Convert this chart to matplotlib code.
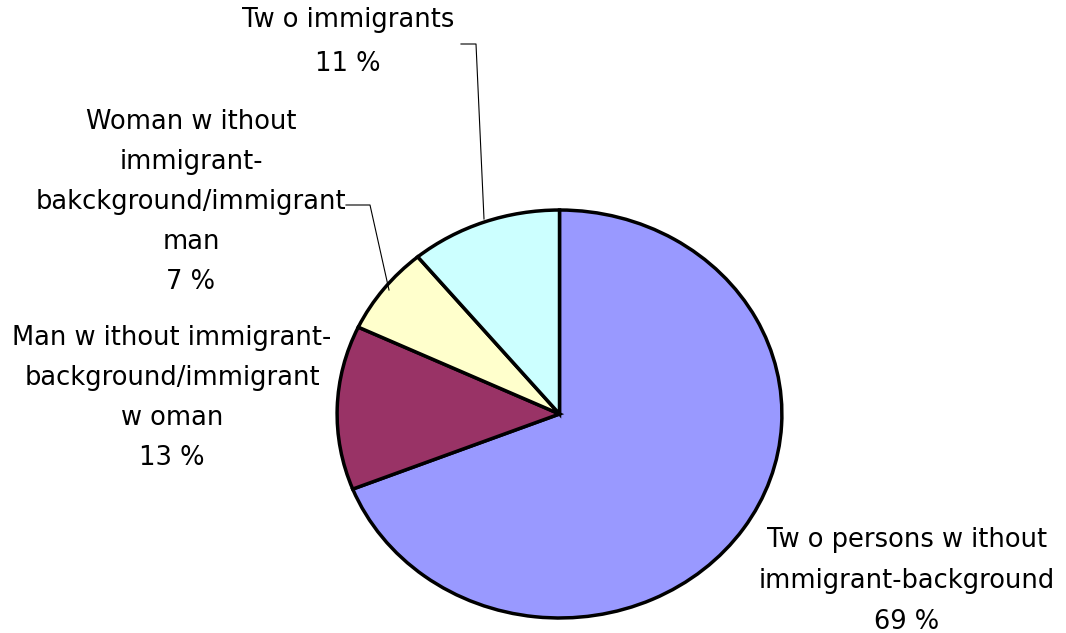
import matplotlib
matplotlib.use("Agg")
import matplotlib.pyplot as plt

categories = [
    "Tw o persons w ithout\nimmigrant-background",
    "Man w ithout immigrant-\nbackground/immigrant\nw oman",
    "Woman w ithout\nimmigrant-\nbakckground/immigrant\nman",
    "Tw o immigrants",
]
values = [69, 13, 7, 11]
colors = ["#9999FF", "#993366", "#FFFFCC", "#CCFFFF"]

W, H = 1066, 633
fig = plt.figure(figsize=(W / 100, H / 100), dpi=100)
fig.patch.set_facecolor("white")

# pie bounding box in pixels (elliptical pie)
px0, px1, py0, py1 = 336, 783, 209, 619
ax = fig.add_axes([px0 / W, 1 - py1 / H, (px1 - px0) / W, (py1 - py0) / H])
ax.pie(values, colors=colors, startangle=90, counterclock=False,
       wedgeprops=dict(edgecolor="black", linewidth=2.5))
ax.set_aspect("auto")
ax.set_xlim(-1.005, 1.005)
ax.set_ylim(-1.005, 1.005)
ax.axis("off")

# overlay axes in pixel coordinates for labels and leader lines
ov = fig.add_axes([0, 0, 1, 1], zorder=5)
ov.set_xlim(0, W)
ov.set_ylim(H, 0)
ov.axis("off")
ov.patch.set_alpha(0)

font = dict(family=["DejaVu Sans"], fontsize=18.5, color="black",
            ha="center", va="center")

labels = [f"{c}\n{v} %" for c, v in zip(categories, values)]
label_pos = [(907, 581), (172, 398), (191, 202), (348, 42)]
spacings = [1.73, 1.70, 1.70, 1.88]
for lab, (x, y), ls in zip(labels, label_pos, spacings):
    ov.text(x, y, lab, linespacing=ls, **font)

# leader lines
ov.plot([461, 476, 484], [44, 44, 219], color="black", lw=0.8)
ov.plot([346, 370, 389], [205, 205, 290], color="black", lw=0.8)

fig.savefig("out.png", dpi=100, facecolor="white")
